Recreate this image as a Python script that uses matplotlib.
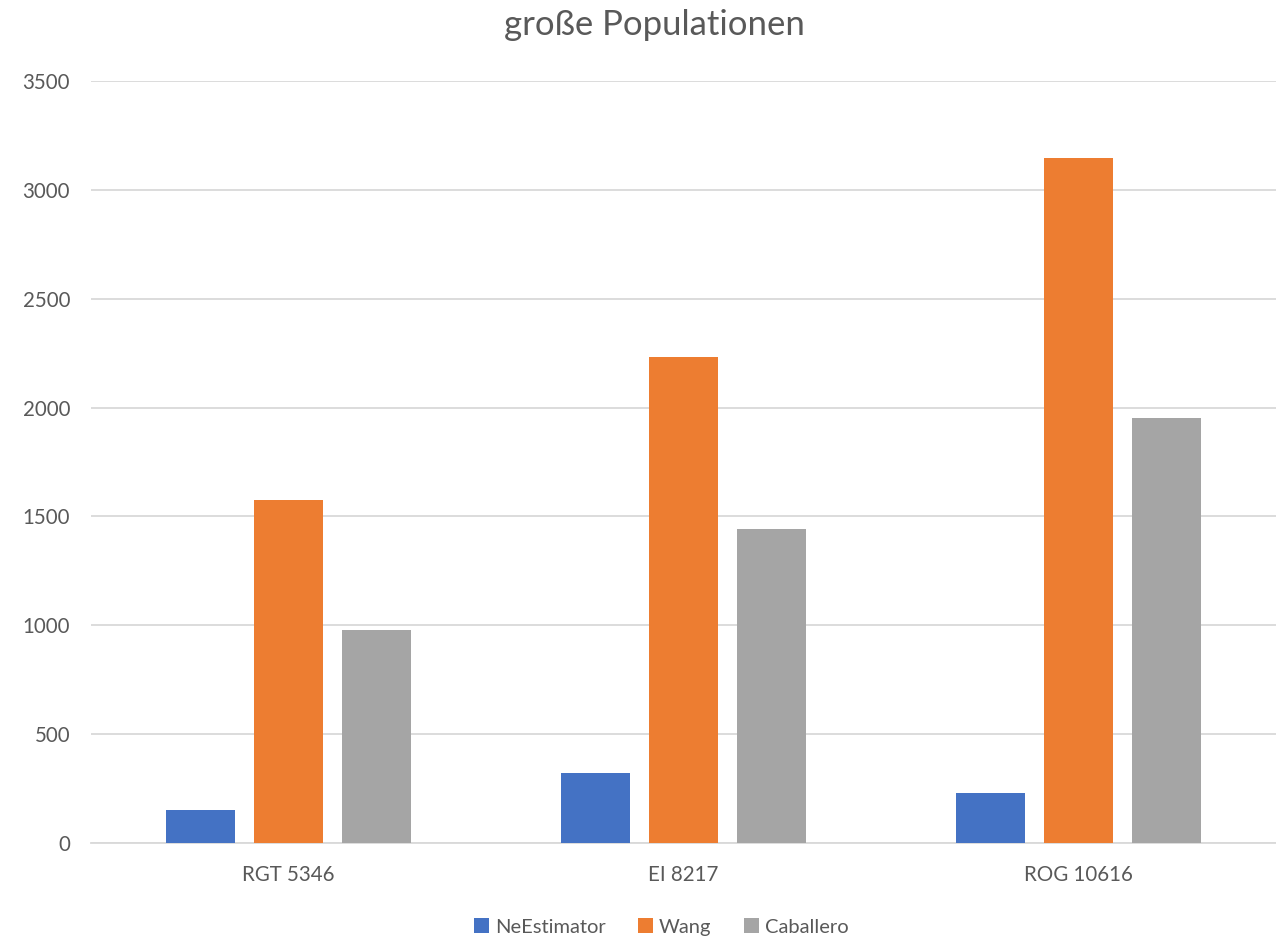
import numpy as np
import matplotlib.pyplot as plt

plt.rcParams['font.family'] = ['Lato', 'DejaVu Sans']

categories = ['RGT 5346', 'EI 8217', 'ROG 10616']
series_names = ['NeEstimator', 'Wang', 'Caballero']
ne_estimator = [150, 323, 228]
wang = [1574, 2230, 3145]
caballero = [980, 1440, 1954]
colors = ['#4472C4', '#ED7D31', '#A5A5A5']

text_col = '#595959'
grid_col = '#D9D9D9'

fig = plt.figure(figsize=(12.76, 9.44), dpi=100)
ax = fig.add_axes([0.0713, 0.107, 0.9287, 0.8072])

x = np.arange(len(categories))
step = 0.2225
width = 0.1745
for i, (name, vals) in enumerate(zip(series_names, [ne_estimator, wang, caballero])):
    ax.bar(x + (i - 1) * step, vals, width=width, color=colors[i], label=name, zorder=3)

ax.set_xlim(-0.5, 2.5)
ax.set_ylim(0, 3500)
ax.set_yticks(np.arange(0, 3501, 500))
ax.set_xticks(x)
ax.set_xticklabels(categories)
ax.yaxis.grid(True, color=grid_col, linewidth=1.3, zorder=0)
ax.tick_params(axis='both', length=0, labelsize=14.8, colors=text_col)
ax.tick_params(axis='x', pad=15.5)
ax.tick_params(axis='y', pad=15)
for side in ['left', 'right', 'top']:
    ax.spines[side].set_visible(False)
ax.spines['bottom'].set_color(grid_col)
ax.spines['bottom'].set_linewidth(1.3)

fig.text(0.513, 0.973, 'große Populationen', ha='center', va='center',
         fontsize=25, color=text_col)

fig.legend(loc='center', bbox_to_anchor=(0.518, 0.018), ncol=3, frameon=False,
           fontsize=14.5, labelcolor=text_col, handlelength=0.75, handleheight=0.75,
           handletextpad=0.3, columnspacing=1.6)

fig.savefig('out.png', dpi=100)
